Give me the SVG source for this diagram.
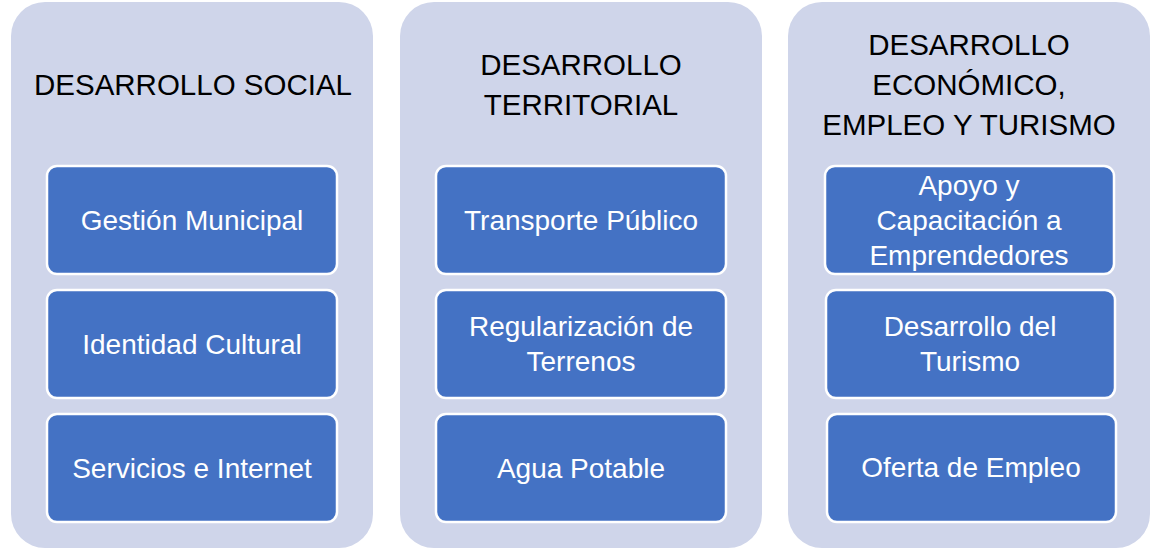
<svg xmlns="http://www.w3.org/2000/svg" width="1150" height="548" viewBox="0 0 1150 548">
<style>
.col{fill:#CFD5EA}
.box{fill:#4472C4;stroke:#FFFFFF;stroke-width:2.5}
.h{font-family:"Liberation Sans",Arial,sans-serif;font-size:29.5px;fill:#000000;text-anchor:middle}
.t{font-family:"Liberation Sans",Arial,sans-serif;font-size:28px;fill:#FFFFFF;text-anchor:middle}
</style>
<rect x="0" y="0" width="1150" height="548" fill="#FFFFFF"/>
<g id="col-social">
<rect class="col" x="11" y="2" width="362" height="546" rx="34"/>
<text class="h" x="193" y="95">DESARROLLO SOCIAL</text>
</g>
<g id="node-gestion">
<rect class="box" x="47" y="166" width="290" height="108" rx="10"/>
<text class="t" x="192" y="230">Gestión Municipal</text>
</g>
<g id="node-identidad">
<rect class="box" x="47" y="290" width="290" height="108" rx="10"/>
<text class="t" x="192" y="354">Identidad Cultural</text>
</g>
<g id="node-servicios">
<rect class="box" x="47" y="414" width="290" height="108" rx="10"/>
<text class="t" x="192" y="478">Servicios e Internet</text>
</g>
<g id="col-territorial">
<rect class="col" x="400" y="2" width="362" height="546" rx="34"/>
<text class="h" x="581" y="75">DESARROLLO</text>
<text class="h" x="581" y="115">TERRITORIAL</text>
</g>
<g id="node-transporte">
<rect class="box" x="436" y="166" width="290" height="108" rx="10"/>
<text class="t" x="581" y="230">Transporte Público</text>
</g>
<g id="node-regularizacion">
<rect class="box" x="436" y="290" width="290" height="108" rx="10"/>
<text class="t" x="581" y="336">Regularización de</text>
<text class="t" x="581" y="371">Terrenos</text>
</g>
<g id="node-agua">
<rect class="box" x="436" y="414" width="290" height="108" rx="10"/>
<text class="t" x="581" y="478">Agua Potable</text>
</g>
<g id="col-economico">
<rect class="col" x="788" y="2" width="362" height="546" rx="34"/>
<text class="h" x="969" y="55">DESARROLLO</text>
<text class="h" x="969" y="95">ECONÓMICO,</text>
<text class="h" x="969" y="135">EMPLEO Y TURISMO</text>
</g>
<g id="node-apoyo">
<rect class="box" x="825" y="166" width="289" height="108" rx="10"/>
<text class="t" x="969" y="195">Apoyo y</text>
<text class="t" x="969" y="230">Capacitación a</text>
<text class="t" x="969" y="265">Emprendedores</text>
</g>
<g id="node-turismo">
<rect class="box" x="826" y="290" width="289" height="108" rx="10"/>
<text class="t" x="970" y="336">Desarrollo del</text>
<text class="t" x="970" y="371">Turismo</text>
</g>
<g id="node-empleo">
<rect class="box" x="827" y="414" width="289" height="108" rx="10"/>
<text class="t" x="971" y="477">Oferta de Empleo</text>
</g>
<g id="connectors"></g>
</svg>
